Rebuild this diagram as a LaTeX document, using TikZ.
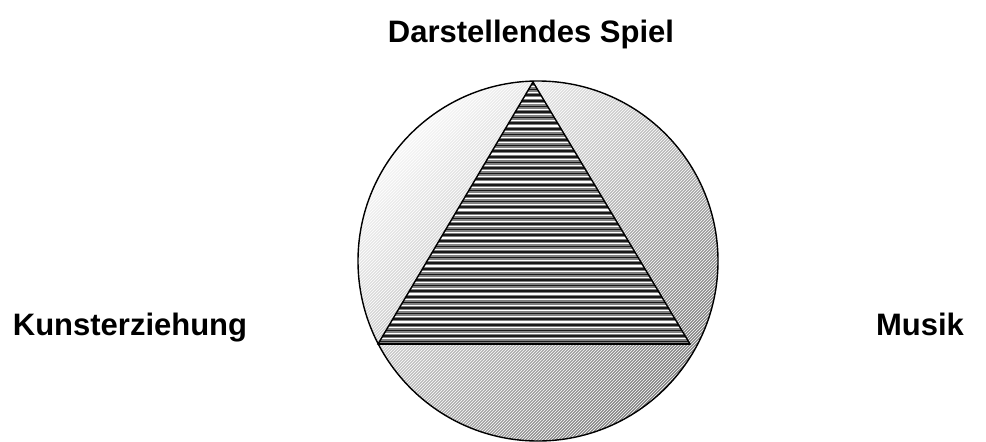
\documentclass[tikz,border=0pt]{standalone}
\usepackage{fontspec}
\setmainfont{Liberation Sans}
\usetikzlibrary{patterns}
\begin{document}
\begin{tikzpicture}[x=1pt, y=-1pt,
    area label/.style={font=\fontsize{31}{36}\selectfont\bfseries,
                       inner sep=0pt, anchor=base},
    disc/.style={circle, inner sep=0pt, minimum size=360pt,
                 shading=axis, top color=black!3, bottom color=black!50,
                 shading angle=45},
    edge line/.style={line width=1.4pt, line join=miter}]
  \useasboundingbox (0,0) rectangle (986,442);
  % circle
  \node (disc) [disc] at (538,261) {};
  \fill[pattern=north east lines, pattern color=white, fill opacity=0.25]
    (disc.center) circle (180pt);
  \draw[edge line] (disc.center) circle (180pt);
  % triangle
  \coordinate (apex) at (533,82);
  \coordinate (left) at (378,344);
  \coordinate (right) at (690,344);
  \begin{scope}
    \clip (apex) -- (left) -- (right) -- cycle;
    \fill[black!50] (370,78) rectangle (700,348);
    \foreach \y in {84,89.6,...,346} {
      \draw[line width=1.5pt, black!90] (370,\y) -- (700,\y);
      \draw[line width=1.3pt, white] (370,\y+2.8) -- (700,\y+2.8);
    }
  \end{scope}
  \draw[edge line] (apex) -- (left) -- (right) -- cycle;
  \draw[line width=2.6pt] (left) -- (right);
  % labels
  \node (spiel) [area label] at (531,42) {Darstellendes Spiel};
  \node (kunst) [area label] at (130,335) {Kunsterziehung};
  \node (musik) [area label] at (920,335) {Musik};
\end{tikzpicture}
\end{document}
